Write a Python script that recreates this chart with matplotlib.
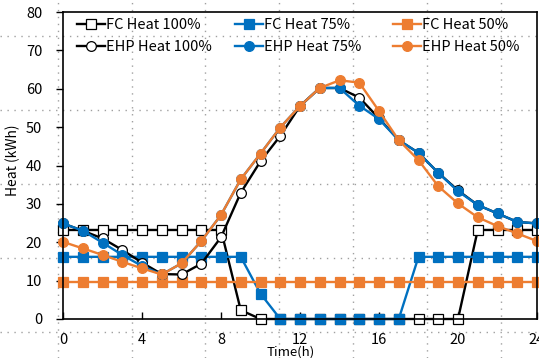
# Heat load of FC and EHP at different operation ratios
import matplotlib
matplotlib.use('Agg')
import matplotlib.pyplot as plt
from matplotlib.lines import Line2D
from matplotlib.legend import Legend

hours = list(range(25))

fc_100 = [23.2, 23.2, 23.2, 23.2, 23.2, 23.2, 23.2, 23.2, 23.2, 2.3, 0, 0, 0,
          0, 0, 0, 0, 0, 0, 0, 0, 23.2, 23.2, 23.2, 23.2]
fc_75 = [16.2, 16.2, 16.2, 16.2, 16.2, 16.2, 16.2, 16.2, 16.2, 16.2, 6.6, 0, 0,
         0, 0, 0, 0, 0, 16.2, 16.2, 16.2, 16.2, 16.2, 16.2, 16.2]
fc_50 = [9.7, 9.7, 9.7, 9.7, 9.7, 9.7, 9.7, 9.7, 9.7, 9.7, 9.7, 9.7, 9.7,
         9.7, 9.7, 9.7, 9.7, 9.7, 9.7, 9.7, 9.7, 9.7, 9.7, 9.7, 9.7]
ehp_100 = [24.9, 23.0, 21.0, 18.0, 14.7, 11.7, 11.6, 14.4, 21.3, 32.9, 41.1, 47.7, 55.5,
           60.2, 60.2, 57.7, 52.3, 46.6, 43.3, 38.1, 33.5, 29.7, 27.5, 25.3, 24.9]
ehp_75 = [24.9, 23.0, 19.9, 16.7, 13.8, 11.6, 14.5, 20.3, 27.1, 36.4, 43.1, 49.9, 55.5,
          60.2, 60.2, 55.6, 52.1, 46.6, 43.3, 38.1, 33.3, 29.7, 27.5, 25.3, 24.9]
ehp_50 = [20.1, 18.4, 16.7, 14.9, 13.2, 11.6, 14.5, 20.3, 27.1, 36.4, 43.1, 49.9, 55.5,
          60.2, 62.2, 61.6, 54.2, 46.6, 41.4, 34.6, 30.1, 26.5, 24.2, 22.3, 20.3]

labels = ['FC Heat 100%', 'FC Heat 75%', 'FC Heat 50%',
          'EHP Heat 100%', 'EHP Heat 75%', 'EHP Heat 50%']

blue = '#0070C0'
orange = '#ED7D31'

plt.rcParams['font.family'] = ['Noto Sans CJK KR', 'DejaVu Sans']

W, H = 539, 358
fig = plt.figure(figsize=(W / 100, H / 100), dpi=100)

# dotted sheet grid behind everything
for px in [58, 132, 205, 279, 353, 427, 501]:
    fig.add_artist(Line2D([px / W, px / W], [0, 1], transform=fig.transFigure,
                          color='#a0a0a0', lw=1.0, ls=(0, (1, 4)), zorder=-10))
for py in [36, 110, 184, 258, 332]:
    fig.add_artist(Line2D([0, 1], [1 - py / H, 1 - py / H], transform=fig.transFigure,
                          color='#a0a0a0', lw=1.0, ls=(0, (1, 4)), zorder=-10))

ax = fig.add_axes([63 / W, (H - 319) / H, (537 - 63) / W, (319 - 12) / H])
ax.set_facecolor('none')

styles = [
    (fc_100, 'black', 's', 'white', 'black'),
    (fc_75, blue, 's', blue, blue),
    (fc_50, orange, 's', orange, orange),
    (ehp_100, 'black', 'o', 'white', 'black'),
    (ehp_75, blue, 'o', blue, blue),
    (ehp_50, orange, 'o', orange, orange),
]
handles = []
for (vals, c, m, fc, ec), lab in zip(styles, labels):
    h, = ax.plot(hours, vals, color=c, lw=1.7, marker=m, ms=7,
                 mfc=fc, mec=ec, mew=0.9, label=lab, clip_on=False)
    handles.append(h)

ax.set_xlim(0, 24)
ax.set_ylim(0, 80)
ax.set_xticks(range(0, 25, 4))
ax.set_yticks(range(0, 81, 10))
ax.tick_params(axis='x', direction='in', length=5, width=1, pad=10, labelsize=10.5)
ax.tick_params(axis='y', direction='out', length=5, width=1, pad=10, labelsize=10.5)
for s in ax.spines.values():
    s.set_linewidth(1.2)

# axis titles
fig.text(291 / W, 1 - 352 / H, 'Time(h)', fontsize=9.5, ha='center', va='center')
fig.text(13 / W, 1 - 160 / H, 'Heat (kWh)', fontsize=10, ha='center', va='center',
         rotation=90)

# three legend columns, evenly spaced like the original
col_x = [77, 235, 393]
for i, x0 in enumerate(col_x):
    leg = Legend(ax, [handles[i], handles[i + 3]], [labels[i], labels[i + 3]],
                 loc='upper left', bbox_to_anchor=((x0 - 63) / 474 - 0.012, 0.998),
                 frameon=False, fontsize=10.5, handlelength=1.9, handletextpad=0.1,
                 labelspacing=0.55, borderaxespad=0)
    ax.add_artist(leg)

fig.savefig('out.png', dpi=100)
